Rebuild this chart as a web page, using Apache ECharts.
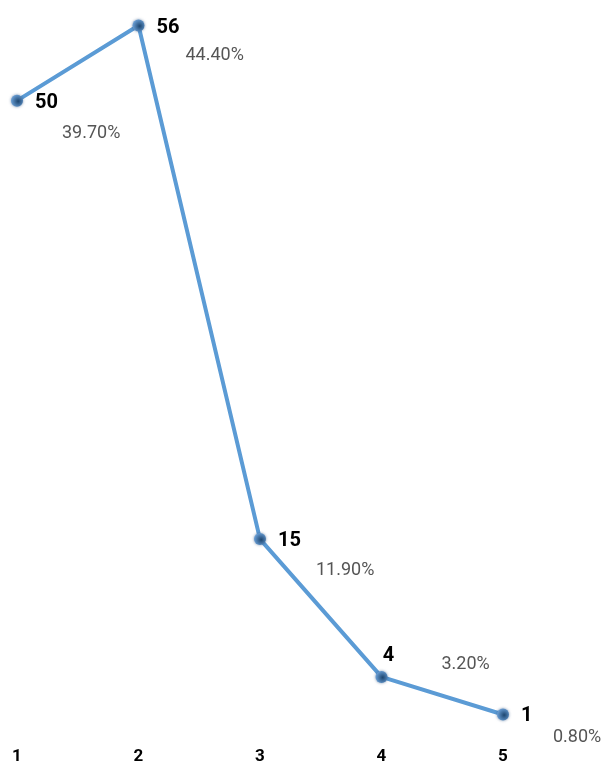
<!DOCTYPE html>
<html>
<head>
<meta charset="utf-8">
<script src="https://cdn.jsdelivr.net/npm/echarts@6/dist/echarts.min.js"></script>
<style>html,body{margin:0;padding:0;background:#fff}#c{width:605px;height:765px}</style>
</head>
<body>
<div id="c"></div>
<script>
var categories = ['1', '2', '3', '4', '5'];
var counts = [50, 56, 15, 4, 1];
var percents = ['39.70%', '44.40%', '11.90%', '3.20%', '0.80%'];

// label placement tweaks (not data)
var pctOffsets = [[45, 33], [47, 30], [56, 31], [60, -12], [50, 23]];

var chart = echarts.init(document.getElementById('c'), null, {renderer: 'canvas'});
var sphere = new echarts.graphic.RadialGradient(0.6, 0.55, 0.6, [
  {offset: 0, color: '#1d4670'},
  {offset: 1, color: '#6a9fd6'}
]);
var option = {
  animation: false,
  textStyle: {fontFamily: 'Roboto'},
  grid: {left: 17, right: 102, top: 25.5, bottom: 34.5},
  xAxis: {
    type: 'category',
    data: categories,
    boundaryGap: false,
    axisLine: {show: false},
    axisTick: {show: false},
    splitLine: {show: false},
    axisLabel: {color: '#000', fontWeight: 'bold', fontSize: 17, fontFamily: 'Roboto', margin: 21}
  },
  yAxis: {type: 'value', min: 0, max: 56, show: false, splitLine: {show: false}},
  series: [
    {
      type: 'line',
      data: counts.map(function (v, i) {
        var d = {value: v};
        if (i === 3) d.label = {position: 'top', offset: [7, 7]};
        return d;
      }),
      symbol: 'circle',
      symbolSize: 12,
      itemStyle: {color: sphere, shadowBlur: 3, shadowColor: 'rgba(30,70,120,0.6)'},
      lineStyle: {color: '#5b9bd5', width: 4},
      label: {
        show: true,
        position: 'right',
        distance: 12,
        offset: [0, 2],
        color: '#000',
        fontWeight: 'bold',
        fontSize: 20,
        fontFamily: 'Roboto'
      },
      z: 3
    },
    {
      type: 'line',
      data: counts.map(function (v, i) {
        return {
          value: v,
          label: {
            formatter: percents[i],
            offset: pctOffsets[i]
          }
        };
      }),
      symbol: 'circle',
      symbolSize: 1,
      itemStyle: {color: 'rgba(0,0,0,0)'},
      lineStyle: {width: 0, opacity: 0},
      label: {
        show: true,
        position: 'inside',
        align: 'left',
        verticalAlign: 'middle',
        color: '#555',
        fontSize: 18,
        fontFamily: 'Roboto'
      },
      silent: true,
      z: 2
    }
  ]
};
chart.setOption(option);
</script>
</body>
</html>
